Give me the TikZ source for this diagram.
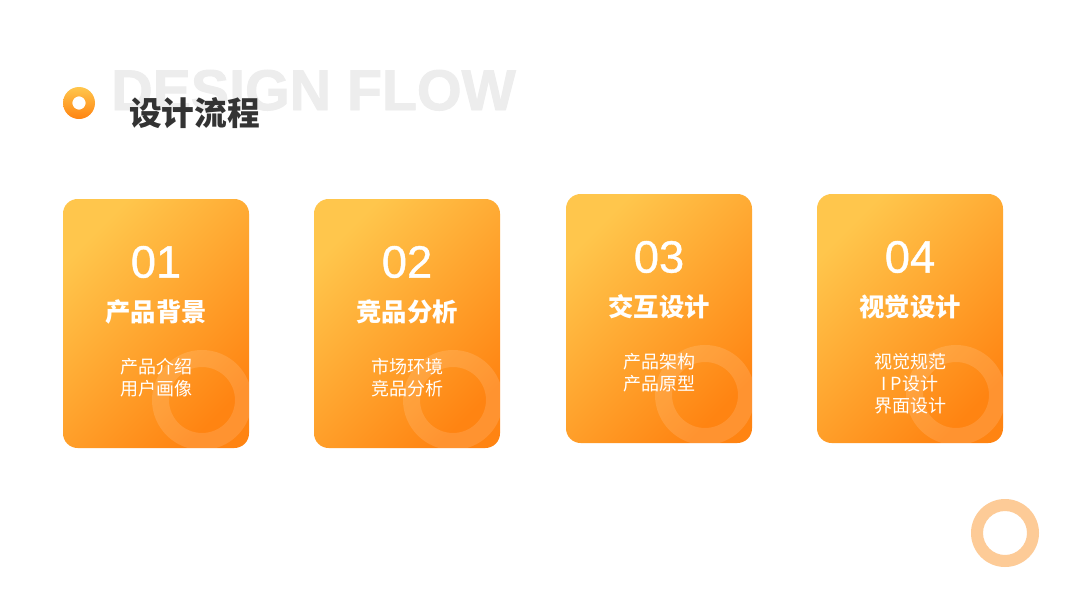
\documentclass[tikz,border=0pt]{standalone}
\usepackage{fontspec}
\newfontfamily\cjk{Noto Sans CJK SC}
\newfontfamily\numfont[FakeBold=0.8]{Liberation Sans}
\newfontfamily\heavyfont[UprightFont={* Bold}, FakeBold=1.6]{Liberation Sans}
\usetikzlibrary{positioning}

\definecolor{cardtop}{HTML}{FFC64C}
\definecolor{cardbot}{HTML}{FF8412}
\definecolor{ringpale}{HTML}{FDCB97}
\definecolor{titlegray}{HTML}{333333}
\definecolor{ghostgray}{HTML}{EDEDED}

\tikzset{
	card/.style = {
		rounded corners = 11pt,
		top color = cardtop,
		bottom color = cardbot,
		shading angle = 45,
	},
	cardnum/.style = {
		text = white,
		font = \numfont\fontsize{34}{36}\selectfont,
	},
	cardtitle/.style = {
		text = white,
		font = \cjk\bfseries\fontsize{19}{22}\selectfont,
	},
	cardsub/.style = {
		text = white,
		align = center,
		anchor = north,
		font = \cjk\fontsize{13.5}{16.5}\selectfont,
	},
}

\begin{document}
\begin{tikzpicture}[x=0.75pt, y=-0.75pt]

	\useasboundingbox[fill=white] (0,0) rectangle (1067,600);

	% heading
	\node[
		anchor = base west,
		inner sep = 0pt,
		text = ghostgray,
		font = \heavyfont\fontsize{43}{46}\selectfont,
		name = ghost,
	] at (111,110) {DESIGN FLOW};

	\shade[top color = cardtop, bottom color = cardbot, even odd rule]
		(79,103) circle (12pt) (79,103) circle (5pt);

	\node[
		anchor = west,
		inner sep = 0pt,
		text = titlegray,
		font = \cjk\bfseries\fontsize{24.5}{26}\selectfont,
		name = heading,
	] at (129,113) {设计流程};

	% cards
	\foreach \cx/\cy/\num/\ttl/\sub [count=\i] in {
		63/199/01/产品背景/{产品介绍\\用户画像},
		314/199/02/竞品分析/{市场环境\\竞品分析},
		566/194/03/交互设计/{产品架构\\产品原型},
		817/194/04/视觉设计/{视觉规范\\I P设计\\界面设计}%
	}{
		\shade[card] (\cx,\cy) rectangle ++(186,249);
		\begin{scope}
			\clip[rounded corners = 11pt] (\cx,\cy) rectangle ++(186,249);
			\fill[white, opacity = 0.13, even odd rule]
				(\cx+139,\cy+201) circle (37.5pt)
				(\cx+139,\cy+201) circle (24.75pt);
		\end{scope}
		\node[cardnum, name = num\i] at (\cx+93,\cy+63) {\num};
		\node[cardtitle, name = ttl\i] at (\cx+93,\cy+113) {\ttl};
		\node[cardsub, name = sub\i] at (\cx+93,\cy+155) {\sub};
	}

	% corner ring
	\fill[ringpale, even odd rule]
		(1005,533) circle (25.5pt) (1005,533) circle (16.5pt);

\end{tikzpicture}
\end{document}
